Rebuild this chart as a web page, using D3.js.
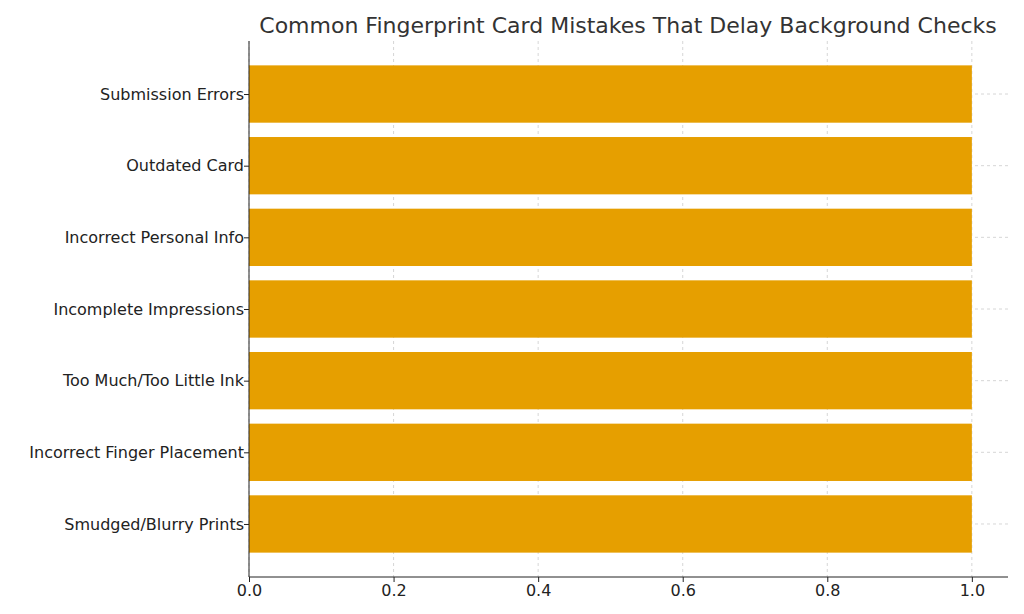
<!DOCTYPE html>
<html><head><meta charset="utf-8">
<script src="https://cdn.jsdelivr.net/npm/d3@7"></script>
<style>body{margin:0;background:#fff}svg{font-family:"DejaVu Sans",sans-serif}</style>
</head><body><svg id="c" width="1024" height="614"></svg>
<script>
const categories=["Smudged/Blurry Prints","Incorrect Finger Placement","Too Much/Too Little Ink","Incomplete Impressions","Incorrect Personal Info","Outdated Card","Submission Errors"];
const values=[1,1,1,1,1,1,1];
const xTicks=[0,0.2,0.4,0.6,0.8,1.0];
const svg=d3.select("#c");
const L=249,R=1008,T=41,B=577;
const x=d3.scaleLinear().domain([0,1.05]).range([L,R]);
const y=d3.scaleLinear().domain([-0.74,6.74]).range([B,T]);
const bh=y(0)-y(0.8);
const g=svg.append("g");
xTicks.forEach(t=>g.append("line").attr("x1",x(t)).attr("x2",x(t)).attr("y1",T).attr("y2",B).attr("stroke","#ccc").attr("stroke-dasharray","3,3").attr("stroke-width",0.8));
categories.forEach((c,i)=>g.append("line").attr("x1",L).attr("x2",R).attr("y1",y(i)).attr("y2",y(i)).attr("stroke","#ccc").attr("stroke-dasharray","3,3").attr("stroke-width",0.8));
g.selectAll("rect.bar").data(values).join("rect").attr("class","bar")
 .attr("x",x(0)).attr("width",d=>x(d)-x(0)).attr("y",(d,i)=>y(i)-bh/2).attr("height",bh).attr("fill","#E69F00");
const xa=svg.append("g").attr("transform",`translate(0,${B})`).call(d3.axisBottom(x).tickValues(xTicks).tickFormat(d3.format(".1f")).tickSize(5).tickSizeOuter(0));
xa.select(".domain").attr("d",`M${L},0H${R}`);
const ya=svg.append("g").attr("transform",`translate(${L},0)`).call(d3.axisLeft(y).tickValues(d3.range(7)).tickFormat(i=>categories[i]).tickSize(5).tickSizeOuter(0));
ya.select(".domain").attr("d",`M0,${T}V${B}`);
[xa,ya].forEach(a=>{a.selectAll("text").attr("font-size",16).attr("fill","#222").attr("font-family","DejaVu Sans");a.selectAll("line,.domain").attr("stroke","#222");});
ya.selectAll("text").attr("x",-5);
svg.append("text").attr("x",628).attr("y",33).attr("text-anchor","middle").attr("font-size",22).attr("fill","#333").text("Common Fingerprint Card Mistakes That Delay Background Checks");
</script></body></html>
